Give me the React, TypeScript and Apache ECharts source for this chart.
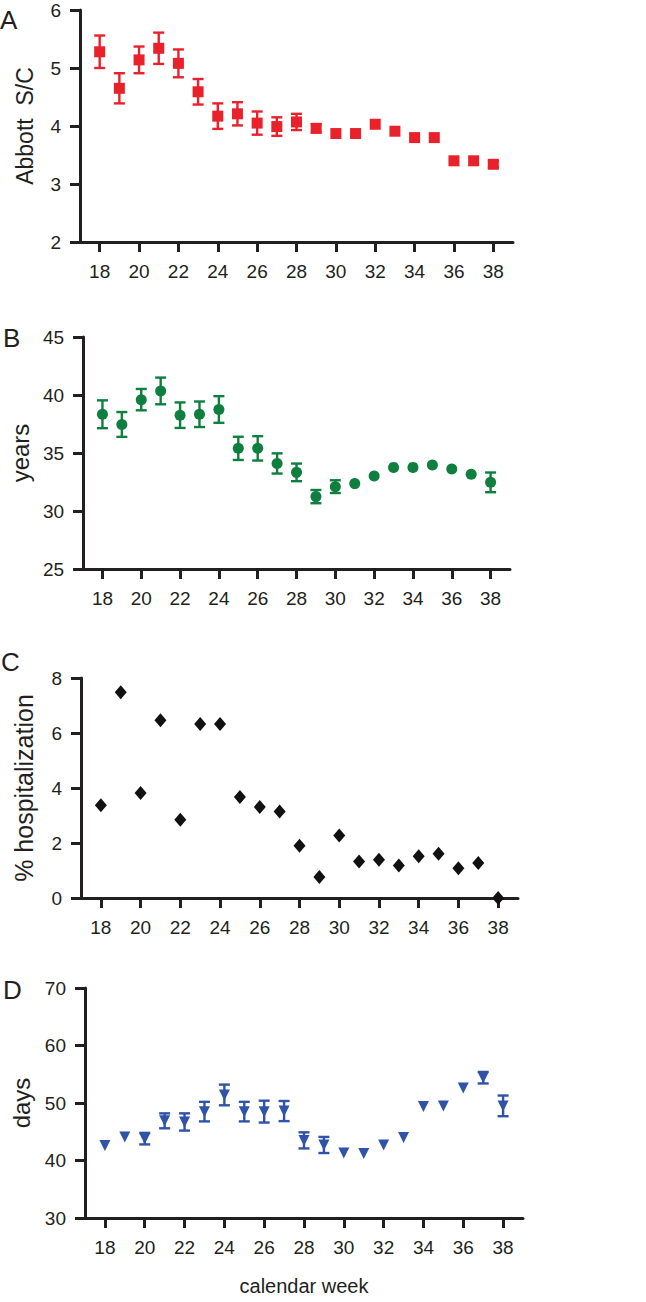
import React, { useEffect, useRef } from "react";
import * as echarts from "echarts";

const weeks = [18, 19, 20, 21, 22, 23, 24, 25, 26, 27, 28, 29, 30, 31, 32, 33, 34, 35, 36, 37, 38];
const weekTicks = [18, 20, 22, 24, 26, 28, 30, 32, 34, 36, 38];

// Panel A: Abbott S/C (mean, error)
const abbottMean = [5.28, 4.65, 5.14, 5.34, 5.08, 4.59, 4.17, 4.21, 4.05, 3.99, 4.07, 3.96, 3.87, 3.87, 4.03, 3.91, 3.8, 3.8, 3.4, 3.4, 3.34];
const abbottErr = [0.28, 0.26, 0.23, 0.27, 0.24, 0.22, 0.22, 0.2, 0.2, 0.16, 0.14, 0.07, 0, 0, 0, 0, 0, 0, 0, 0, 0.05];

// Panel B: age in years
const ageMean = [38.34, 37.46, 39.6, 40.35, 38.26, 38.34, 38.75, 35.4, 35.4, 34.1, 33.33, 31.24, 32.1, 32.36, 33.02, 33.76, 33.76, 33.96, 33.62, 33.16, 32.47];
const ageErr = [1.2, 1.07, 0.92, 1.15, 1.1, 1.1, 1.15, 1.0, 1.05, 0.87, 0.76, 0.57, 0.55, 0, 0, 0, 0, 0, 0, 0, 0.85];

// Panel C: % hospitalization
const hospPct = [3.37, 7.48, 3.82, 6.46, 2.85, 6.33, 6.33, 3.67, 3.31, 3.15, 1.9, 0.76, 2.27, 1.33, 1.39, 1.18, 1.52, 1.61, 1.08, 1.27, 0];

// Panel D: days
const daysMean = [42.6, 44.1, 43.8, 46.9, 46.7, 48.5, 51.4, 48.5, 48.5, 48.6, 43.5, 42.7, 41.3, 41.2, 42.7, 44.0, 49.4, 49.5, 52.6, 54.4, 49.5];
const daysErr = [0, 0, 1.0, 1.3, 1.5, 1.7, 1.8, 1.7, 1.9, 1.75, 1.4, 1.4, 0, 0, 0, 0, 0, 0, 0, 1.0, 1.8];

const FONT = "'Liberation Sans', Arial, Helvetica, sans-serif";
const TEXT = "#231f20";
const AXIS = "#231f20";

const RED = "#e8212b";
const GREEN = "#0f7f3f";
const BLACK = "#111111";
const BLUE = "#2f53a6";

function errorData(mean: number[], err: number[]) {
  const out: number[][] = [];
  weeks.forEach((w, i) => {
    if (err[i] > 0) out.push([w, mean[i], mean[i] - err[i], mean[i] + err[i]]);
  });
  return out;
}

function errorSeries(idx: number, mean: number[], err: number[], color: string) {
  return {
    type: "custom",
    xAxisIndex: idx,
    yAxisIndex: idx,
    silent: true,
    data: errorData(mean, err),
    renderItem: (params: any, api: any) => {
      const x = api.value(0);
      const lo = api.coord([x, api.value(2)]);
      const hi = api.coord([x, api.value(3)]);
      const hw = 5.5;
      const style = { stroke: color, lineWidth: 2.4 };
      return {
        type: "group",
        children: [
          { type: "line", shape: { x1: hi[0], y1: hi[1], x2: lo[0], y2: lo[1] }, style },
          { type: "line", shape: { x1: hi[0] - hw, y1: hi[1], x2: hi[0] + hw, y2: hi[1] }, style },
          { type: "line", shape: { x1: lo[0] - hw, y1: lo[1], x2: lo[0] + hw, y2: lo[1] }, style },
        ],
      };
    },
    z: 2,
  };
}

function pts(vals: number[]) {
  return weeks.map((w, i) => [w, vals[i]]);
}

function xAxisDef(idx: number, name?: string) {
  return {
    type: "value",
    gridIndex: idx,
    min: 17,
    max: 39,
    name: name || "",
    nameLocation: "middle",
    nameGap: 58,
    nameTextStyle: { fontFamily: FONT, fontSize: 20, color: TEXT },
    splitLine: { show: false },
    axisLine: { show: true, lineStyle: { color: AXIS, width: 3 } },
    axisTick: { show: true, length: 10, lineStyle: { color: AXIS, width: 3 }, customValues: weekTicks },
    axisLabel: { show: true, customValues: weekTicks, margin: 20, fontFamily: FONT, fontSize: 19, color: TEXT },
  };
}

function yAxisDef(idx: number, min: number, max: number, interval: number, name: string, nameGap: number, nameSize: number) {
  return {
    type: "value",
    gridIndex: idx,
    min,
    max,
    interval,
    name,
    nameLocation: "middle",
    nameRotate: 90,
    nameGap,
    nameTextStyle: { fontFamily: FONT, fontSize: nameSize, color: TEXT },
    splitLine: { show: false },
    axisLine: { show: true, lineStyle: { color: AXIS, width: 3 } },
    axisTick: { show: true, length: 10, lineStyle: { color: AXIS, width: 3 } },
    axisLabel: { show: true, margin: 19, fontFamily: FONT, fontSize: 19, color: TEXT },
  };
}

export default function App() {
  const ref = useRef<HTMLDivElement>(null);
  useEffect(() => {
    if (!ref.current) return;
    const chart = echarts.init(ref.current, undefined, { renderer: "svg" });
    const letter = (t: string, x: number, y: number) => ({
      type: "text",
      x,
      y,
      style: { text: t, fontFamily: FONT, fontSize: 26, fill: TEXT, textVerticalAlign: "middle" },
    });
    chart.setOption({
      animation: false,
      backgroundColor: "#ffffff",
      grid: [
        { left: 80, right: 133, top: 10, height: 232 },
        { left: 83, right: 136, top: 337, height: 232 },
        { left: 81, right: 128, top: 678, height: 220 },
        { left: 85, right: 123, top: 988, height: 230 },
      ],
      xAxis: [xAxisDef(0), xAxisDef(1), xAxisDef(2), xAxisDef(3, "calendar week")],
      yAxis: [
        yAxisDef(0, 2, 6, 1, "Abbott  S/C", 44, 23),
        yAxisDef(1, 25, 45, 5, "years", 50, 24),
        yAxisDef(2, 0, 8, 2, "% hospitalization", 45, 25),
        yAxisDef(3, 30, 70, 10, "days", 52, 24),
      ],
      graphic: [
        letter("A", 0, 20),
        letter("B", 3, 338),
        letter("C", 1, 662),
        letter("D", 3, 990),
      ],
      series: [
        errorSeries(0, abbottMean, abbottErr, RED),
        {
          type: "scatter",
          xAxisIndex: 0,
          yAxisIndex: 0,
          symbol: "rect",
          symbolSize: 11,
          itemStyle: { color: RED, opacity: 1 },
          data: pts(abbottMean),
          z: 3,
        },
        errorSeries(1, ageMean, ageErr, GREEN),
        {
          type: "scatter",
          xAxisIndex: 1,
          yAxisIndex: 1,
          symbol: "circle",
          symbolSize: 11,
          itemStyle: { color: GREEN, opacity: 1 },
          data: pts(ageMean),
          z: 3,
        },
        {
          type: "scatter",
          xAxisIndex: 2,
          yAxisIndex: 2,
          symbol: "diamond",
          symbolSize: [12, 14],
          itemStyle: { color: BLACK, opacity: 1 },
          data: pts(hospPct),
          z: 3,
        },
        errorSeries(3, daysMean, daysErr, BLUE),
        {
          type: "scatter",
          xAxisIndex: 3,
          yAxisIndex: 3,
          symbol: "triangle",
          symbolRotate: 180,
          symbolSize: [11, 11],
          itemStyle: { color: BLUE, opacity: 1 },
          data: pts(daysMean),
          z: 3,
        },
      ],
    });
    return () => chart.dispose();
  }, []);
  return (
    <div
      ref={ref}
      style={{ position: "absolute", left: 0, top: 0, width: 646, height: 1302, background: "#fff" }}
    />
  );
}
